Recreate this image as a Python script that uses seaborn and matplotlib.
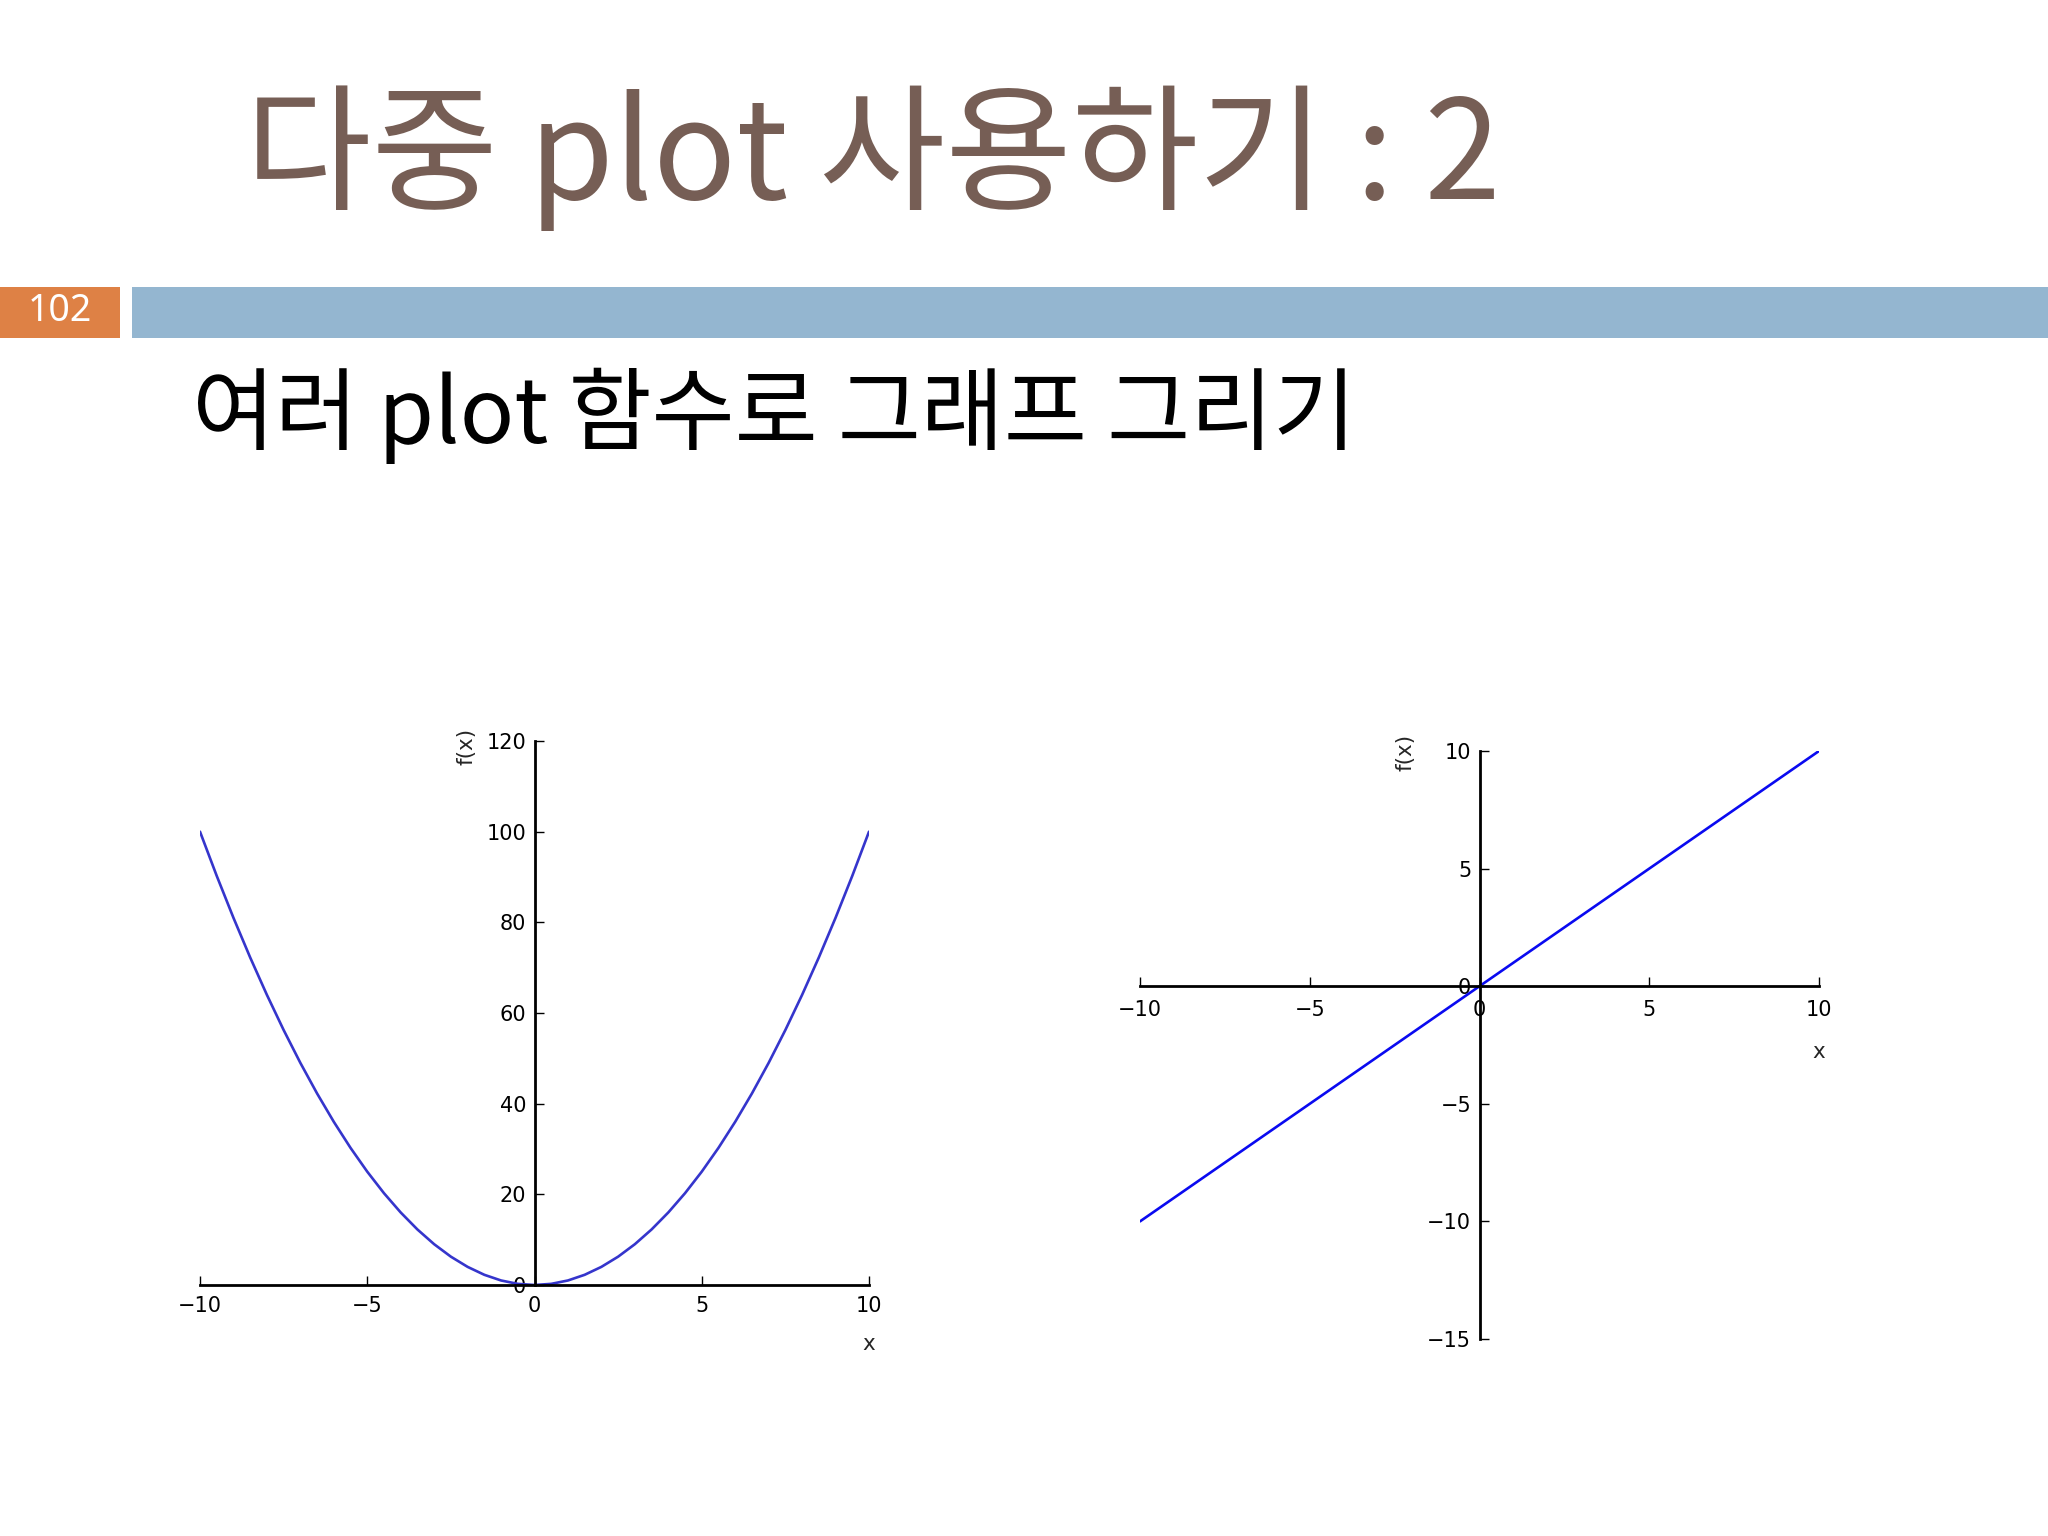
import numpy as np
import matplotlib
matplotlib.use("Agg")
import matplotlib.pyplot as plt
import seaborn as sns
import pandas as pd
from matplotlib.patches import Rectangle

# Slide texts
slide_title = "다중 plot 사용하기 : 2"
slide_subtitle = "여러 plot 함수로 그래프 그리기"
page_number = "102"

# Left chart: f(x) = x^2, values read at half-unit steps of x
quad_x = [-10, -9.5, -9, -8.5, -8, -7.5, -7, -6.5, -6, -5.5, -5,
          -4.5, -4, -3.5, -3, -2.5, -2, -1.5, -1, -0.5, 0,
          0.5, 1, 1.5, 2, 2.5, 3, 3.5, 4, 4.5, 5,
          5.5, 6, 6.5, 7, 7.5, 8, 8.5, 9, 9.5, 10]
quad_y = [100, 90.25, 81, 72.25, 64, 56.25, 49, 42.25, 36, 30.25, 25,
          20.25, 16, 12.25, 9, 6.25, 4, 2.25, 1, 0.25, 0,
          0.25, 1, 2.25, 4, 6.25, 9, 12.25, 16, 20.25, 25,
          30.25, 36, 42.25, 49, 56.25, 64, 72.25, 81, 90.25, 100]
quad_xticks = [-10, -5, 0, 5, 10]
quad_yticks = [0, 20, 40, 60, 80, 100, 120]

# Right chart: f(x) = x
lin_x = [-10, 0, 10]
lin_y = [-10, 0, 10]
lin_xticks = [-10, -5, 0, 5, 10]
lin_yticks = [-15, -10, -5, 0, 5, 10]

sns.set_style("white")
plt.rcParams['font.family'] = ['DejaVu Sans']
korean = ['Noto Sans CJK KR', 'DejaVu Sans']

fig = plt.figure(figsize=(20.48, 15.36), dpi=100)
fig.patch.set_facecolor("white")

# Header: title, page box, blue bar, subtitle
fig.text(245 / 2048, 1 - 199 / 1536, slide_title, family=korean, fontsize=99,
         color="#765e55", ha="left", va="baseline")
fig.add_artist(Rectangle((0, 1 - 338 / 1536), 120 / 2048, 51 / 1536,
                         transform=fig.transFigure, color="#de8145", lw=0))
fig.add_artist(Rectangle((132 / 2048, 1 - 338 / 1536), 1 - 132 / 2048, 51 / 1536,
                         transform=fig.transFigure, color="#94b6d0", lw=0))
fig.text(60 / 2048, 1 - 311 / 1536, page_number, family=['Noto Sans'], fontsize=27,
         color="white", ha="center", va="center")
fig.text(192 / 2048, 1 - 443 / 1536, slide_subtitle, family=korean, fontsize=65,
         color="black", ha="left", va="baseline")


def style_axes(ax, xticks, yticks):
    # axes crossing at zero, sympy-like
    ax.spines['left'].set_position('zero')
    ax.spines['bottom'].set_position('zero')
    ax.spines['right'].set_visible(False)
    ax.spines['top'].set_visible(False)
    for s in ['left', 'bottom']:
        ax.spines[s].set_linewidth(2.0)
        ax.spines[s].set_color("black")
    ax.set_xticks(xticks)
    ax.set_yticks(yticks)
    ax.tick_params(direction="in", length=6.5, width=1.0, labelsize=15,
                   colors="black", left=True, bottom=True)
    ax.tick_params(axis="x", pad=8)
    ax.tick_params(axis="y", pad=6)
    ax.patch.set_alpha(0)


# Left plot
ax1 = fig.add_axes([200 / 2048, 1 - 1285 / 1536, 669 / 2048, 544 / 1536])
df1 = pd.DataFrame({"x": quad_x, "f(x)": quad_y})
sns.lineplot(data=df1, x="x", y="f(x)", ax=ax1, color="#3535cc", linewidth=1.9,
             estimator=None, sort=False)
ax1.set_xlim(-10, 10)
ax1.set_ylim(0, 120)
style_axes(ax1, quad_xticks, quad_yticks)
ax1.set_xlabel("x", fontsize=15.5)
ax1.set_ylabel("f(x)", fontsize=15.5)
ax1.xaxis.set_label_coords(1.0, -0.09)
ax1.yaxis.set_label_coords(0.414, 0.99)

# Right plot
ax2 = fig.add_axes([1140 / 2048, 1 - 1339 / 1536, 679 / 2048, 588 / 1536])
df2 = pd.DataFrame({"x": lin_x, "f(x)": lin_y})
sns.lineplot(data=df2, x="x", y="f(x)", ax=ax2, color="#0a0af0", linewidth=1.9,
             estimator=None, sort=False)
ax2.set_xlim(-10, 10)
ax2.set_ylim(-15, 10)
style_axes(ax2, lin_xticks, lin_yticks)
ax2.tick_params(axis="x", pad=10)
ax2.set_xlabel("x", fontsize=15.5)
ax2.set_ylabel("f(x)", fontsize=15.5)
ax2.xaxis.set_label_coords(1.0, 0.505)
ax2.yaxis.set_label_coords(0.406, 0.997)

fig.savefig("out.png", dpi=100, facecolor="white")
